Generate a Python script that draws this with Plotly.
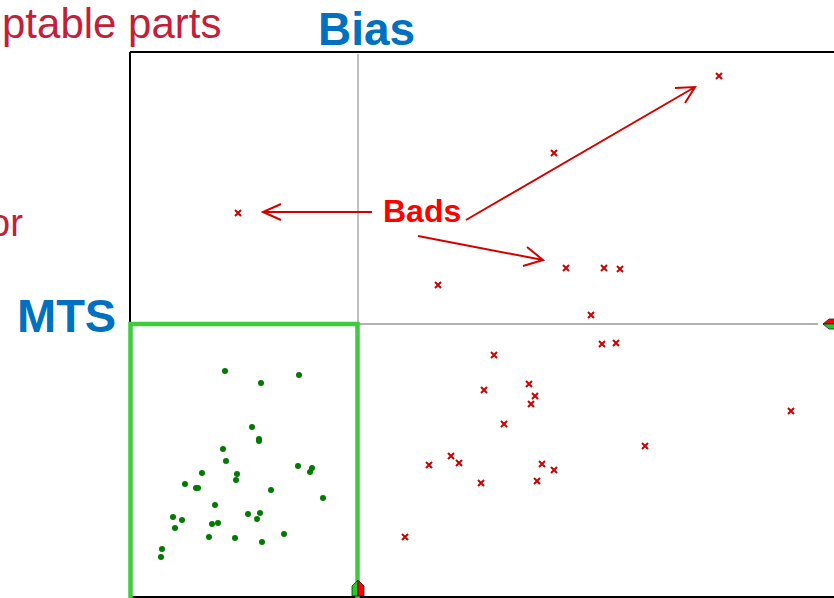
import plotly.graph_objects as go

# Data (Bias on x, MTS on y; arbitrary units)
bad_x = [58.9, 42.4, 10.8, 43.6, 47.4, 49.0, 30.8, 46.1, 47.2, 48.6, 36.4, 35.4, 39.9,
         40.5, 40.1, 66.1, 37.4, 51.5, 32.1, 29.9, 32.9, 41.2, 42.4, 35.1, 40.7, 27.5]
bad_y = [52.1, 44.4, 38.4, 32.9, 32.9, 32.8, 31.2, 28.2, 25.3, 25.4, 24.2, 20.7, 21.3,
         20.1, 19.3, 18.6, 17.3, 15.1, 14.1, 13.2, 13.4, 13.3, 12.7, 11.4, 11.6, 6.0]

good_x = [9.5, 16.9, 13.1, 12.2, 12.9, 12.9, 9.3, 9.6, 16.8, 18.2, 18.0, 7.2, 10.7, 10.6,
          5.5, 6.6, 6.8, 14.1, 19.3, 8.5, 11.8, 13.0, 12.7, 4.3, 5.2, 8.2, 8.8, 4.5,
          15.4, 7.9, 10.5, 13.2, 3.2, 3.1]
good_y = [22.6, 22.2, 21.4, 17.0, 15.8, 15.6, 14.8, 13.6, 13.1, 12.9, 12.5, 12.4, 12.3, 11.7,
          11.3, 10.9, 10.9, 10.7, 9.9, 9.2, 8.3, 8.4, 7.8, 8.0, 7.7, 7.3, 7.4, 6.9,
          6.3, 6.0, 5.9, 5.5, 4.8, 4.0]

bias_limit = 22.8
mts_limit = 27.3

# Arrows: (tail_x, tail_y, tip_x, tip_y, head1_x, head1_y, head2_x, head2_y)
arrows = [
    (24.2, 38.5, 13.3, 38.5, 15.1, 39.3, 15.1, 37.7),
    (33.6, 37.7, 56.5, 51.0, 54.5, 50.9, 55.5, 49.4),
    (28.8, 36.1, 41.3, 33.7, 39.7, 35.0, 39.3, 33.1),
]

XMIN, XMAX = -13.0, 70.4
YMIN, YMAX = -0.1, 59.7

fig = go.Figure()

fig.add_trace(go.Scatter(x=bad_x, y=bad_y, mode="markers",
                         marker=dict(symbol="x-thin", size=6, color="#CC0000",
                                     line=dict(color="#CC0000", width=2)),
                         hoverinfo="skip"))
fig.add_trace(go.Scatter(x=good_x, y=good_y, mode="markers",
                         marker=dict(symbol="circle", size=6, color="#007A00",
                                     line=dict(width=0)),
                         hoverinfo="skip"))

shapes = []
# frame
top = 54.5
shapes.append(dict(type="line", x0=0, x1=XMAX + 1, y0=top, y1=top, line=dict(color="black", width=2)))
shapes.append(dict(type="line", x0=0, x1=0, y0=YMIN - 1, y1=top, line=dict(color="black", width=2)))
shapes.append(dict(type="line", x0=0, x1=XMAX + 1, y0=0.0, y1=0.0, line=dict(color="black", width=2)))
# reference lines
shapes.append(dict(type="line", x0=bias_limit, x1=bias_limit, y0=mts_limit, y1=top - 0.2,
                   line=dict(color="#808080", width=1)))
shapes.append(dict(type="line", x0=bias_limit, x1=68.8, y0=mts_limit, y1=mts_limit,
                   line=dict(color="#999999", width=1.5)))
# green acceptance box
shapes.append(dict(type="rect", x0=0.05, x1=22.75, y0=-1.0, y1=mts_limit,
                   line=dict(color="#3CCC3C", width=4.5), fillcolor="rgba(0,0,0,0)"))
# reference-line end markers
shapes.append(dict(type="path", path="M 69.3 27.3 L 69.9 27.8 L 70.6 27.8 L 70.6 27.3 Z",
                   fillcolor="#FF0000", line=dict(color="#222", width=0.8)))
shapes.append(dict(type="path", path="M 69.3 27.3 L 69.9 26.8 L 70.6 26.8 L 70.6 27.3 Z",
                   fillcolor="#22CC22", line=dict(color="#222", width=0.8)))
shapes.append(dict(type="path", path="M 22.8 1.7 L 22.2 1.1 L 22.2 0.1 L 22.8 0.1 Z",
                   fillcolor="#22CC22", line=dict(color="#222", width=0.8)))
shapes.append(dict(type="path", path="M 22.8 1.7 L 23.4 1.1 L 23.4 0.1 L 22.8 0.1 Z",
                   fillcolor="#FF0000", line=dict(color="#222", width=0.8)))
# arrows
for tx, ty, px, py, h1x, h1y, h2x, h2y in arrows:
    shapes.append(dict(type="path",
                       path=f"M {tx} {ty} L {px} {py} M {h1x} {h1y} L {px} {py} L {h2x} {h2y}",
                       line=dict(color="#D40000", width=2)))

annotations = [
    dict(x=XMIN, y=57.4, text="ptable parts", showarrow=False, xanchor="left", yanchor="middle",
         font=dict(family="Liberation Sans, Arial", size=42, color="#C41E3A")),
    dict(x=-10.5, y=37.4, text="or", showarrow=False, xanchor="right", yanchor="middle",
         font=dict(family="Liberation Sans, Arial", size=38, color="#C41E3A")),
    dict(x=23.6, y=56.8, text="<b>Bias</b>", showarrow=False, xanchor="center", yanchor="middle",
         font=dict(family="Liberation Sans, Arial", size=46, color="#0070C0")),
    dict(x=-6.4, y=28.2, text="<b>MTS</b>", showarrow=False, xanchor="center", yanchor="middle",
         font=dict(family="Liberation Sans, Arial", size=47, color="#0070C0")),
    dict(x=29.2, y=38.6, text="<b>Bads</b>", showarrow=False, xanchor="center", yanchor="middle",
         font=dict(family="Liberation Sans, Arial", size=32, color="#FF0000")),
]

fig.update_layout(
    width=834, height=598,
    margin=dict(l=0, r=0, t=0, b=0),
    paper_bgcolor="white", plot_bgcolor="white",
    showlegend=False,
    xaxis=dict(range=[XMIN, XMAX], visible=False, fixedrange=True),
    yaxis=dict(range=[YMIN, YMAX], visible=False, fixedrange=True),
    shapes=shapes,
    annotations=annotations,
)

fig.write_html("out.html", config={"displayModeBar": False},
               post_script="document.body.style.margin='0px';document.body.style.overflow='hidden';")
